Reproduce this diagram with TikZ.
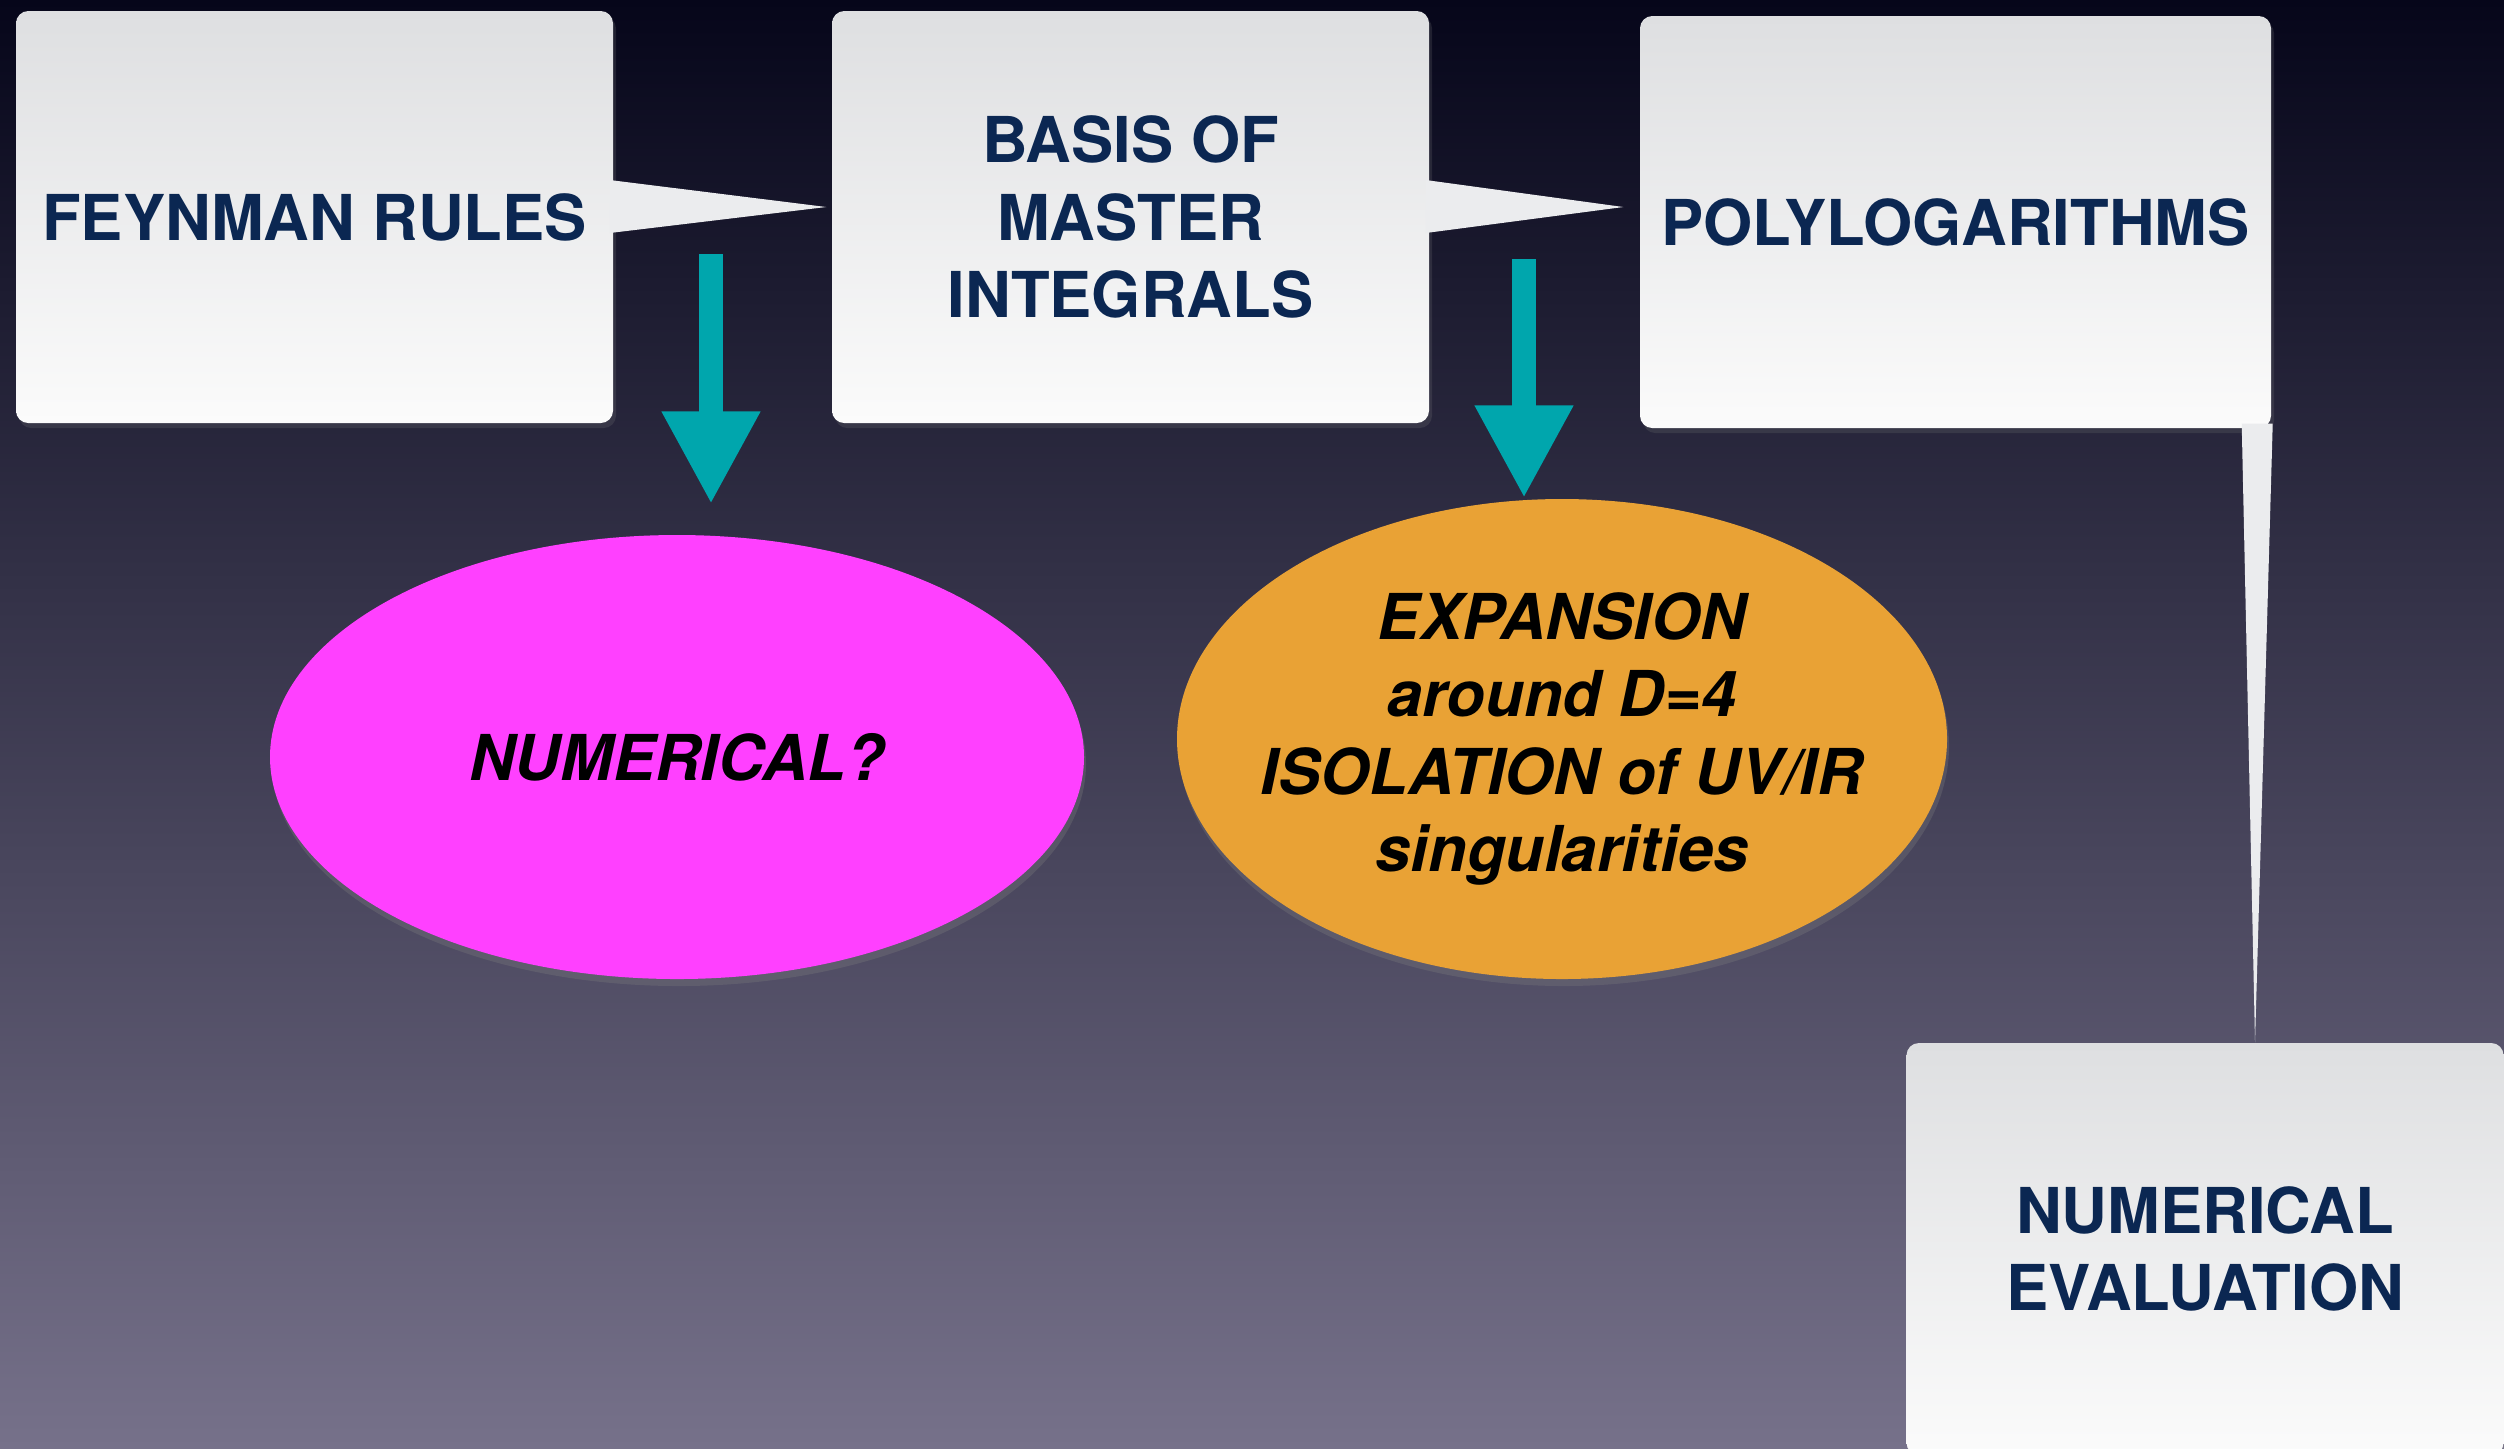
\documentclass[tikz,border=0pt]{standalone}
\usepackage{fontspec}
\setmainfont{TeX Gyre Heros}
\usetikzlibrary{calc,shapes.geometric,shadows,arrows.meta}

\definecolor{bgtop}{HTML}{06061A}
\definecolor{bgmid}{HTML}{3B3A5A}
\definecolor{bgbot}{HTML}{76718A}
\definecolor{boxtop}{HTML}{DEDFE1}
\definecolor{boxbot}{HTML}{FBFBFB}
\definecolor{wedgegray}{HTML}{EBECEE}
\definecolor{boxtext}{HTML}{0B2752}
\definecolor{numfill}{HTML}{FF40FF}
\definecolor{expfill}{HTML}{E9A235}
\definecolor{tealarrow}{HTML}{00A6AD}

\tikzset{
  stepbox/.style={rectangle, rounded corners=3.5pt, top color=boxtop, bottom color=boxbot,
    minimum width=5.97cm, minimum height=4.12cm, inner sep=0pt, align=center, text=boxtext,
    font=\fontsize{18}{22}\selectfont\bfseries,
    drop shadow={opacity=0.2, shadow xshift=0.03cm, shadow yshift=-0.05cm}},
  blob/.style={ellipse, inner sep=0pt, align=center, text=black,
    font=\fontsize{18}{22}\selectfont\bfseries\itshape,
    drop shadow={opacity=0.3, shadow xshift=0.02cm, shadow yshift=-0.07cm}},
  wedge/.style={fill=wedgegray},
  downarrow/.style={draw=tealarrow, line width=0.24cm, -{Triangle[width=0.92cm,length=0.93cm]}}
}

\begin{document}
\begin{tikzpicture}

% Page and background
\useasboundingbox (0,0) rectangle (25.04,-14.48);
\clip (0,0) rectangle (25.04,-14.48);
\shade[top color=bgtop, middle color=bgmid, bottom color=bgbot] (0,0) rectangle (25.04,-14.48);

% Boxes
\node[stepbox] (feyn) at (3.145,-2.17) {FEYNMAN RULES};
\node[stepbox] (basis) at (11.305,-2.17) {BASIS OF\\MASTER\\INTEGRALS};
\node[stepbox, minimum width=6.31cm] (poly) at (19.555,-2.22) {POLYLOGARITHMS};
\node[stepbox] (numeval) at (22.05,-12.49) {NUMERICAL\\EVALUATION};

% Ellipses
\node[blob, fill=numfill, minimum width=8.14cm, minimum height=4.44cm] (numerical) at (6.77,-7.57) {NUMERICAL?};
\node[blob, fill=expfill, inner xsep=-0.45cm, minimum width=7.70cm, minimum height=4.80cm] (expansion) at (15.62,-7.39)
  {EXPANSION\\around D=4\\ISOLATION of UV/IR\\singularities};

% Wedge from FEYNMAN RULES to BASIS
\fill[wedge] ($(feyn.east)+(-0.04,0.37)$) -- ($(basis.west)+(-0.05,0.10)$) -- ($(feyn.east)+(-0.04,-0.16)$) -- cycle;

% Wedge from BASIS to POLYLOGARITHMS
\fill[wedge] ($(basis.east)+(-0.04,0.37)$) -- ($(poly.west)+(-0.16,0.15)$) -- ($(basis.east)+(-0.04,-0.16)$) -- cycle;

% Wedge from POLYLOGARITHMS down to NUMERICAL EVALUATION
\fill[wedge] ($(poly.south east)+(-0.30,0.05)$) -- ($(numeval.north)+(0.50,0)$) -- ($(poly.south east)+(0.01,0.05)$) -- cycle;

% Teal arrows
\coordinate (numstart) at (7.11,-2.54);
\draw[downarrow] (numstart) -- ($(numstart |- numerical.north)+(0,0.30)$);

\coordinate (expstart) at (15.24,-2.59);
\draw[downarrow] (expstart) -- (expstart |- expansion.north);

\end{tikzpicture}
\end{document}
